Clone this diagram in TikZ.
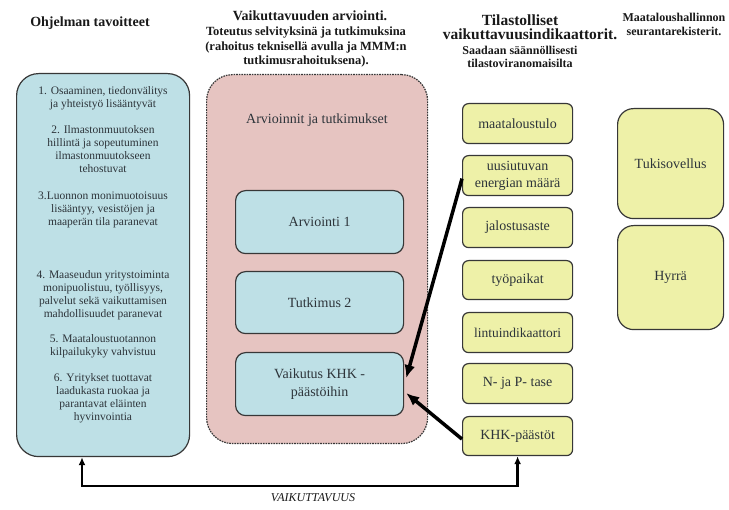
\documentclass[tikz,border=0pt]{standalone}
\usepackage{fontspec}
\setmainfont{Liberation Serif}
\usetikzlibrary{arrows.meta,calc}
\definecolor{bluefill}{RGB}{190,224,230}
\definecolor{pinkfill}{RGB}{230,196,193}
\definecolor{yelfill}{RGB}{238,241,168}
\definecolor{edgec}{RGB}{55,55,55}
\definecolor{txt}{RGB}{45,52,58}
\definecolor{head}{RGB}{25,25,25}
\tikzset{
  box/.style={draw=edgec, line width=1.2pt, inner sep=0pt, anchor=north west, text=txt, align=center},
  goalbox/.style={box, fill=bluefill, rounded corners=22pt},
  evalbox/.style={box, fill=pinkfill, dashed, dash pattern=on 1.6pt off 1pt, rounded corners=26pt},
  studybox/.style={box, fill=bluefill, rounded corners=10pt, font=\fontsize{14}{18}\selectfont},
  indbox/.style={box, fill=yelfill, rounded corners=6pt, minimum width=110pt, font=\fontsize{14}{17}\selectfont},
  regbox/.style={box, fill=yelfill, rounded corners=16pt, minimum width=106pt, font=\fontsize{14}{17}\selectfont},
  goaltext/.style={text=txt, align=center, font=\fontsize{11.5}{13}\selectfont, inner sep=0pt},
  headbig/.style={text=head, align=center, font=\bfseries\fontsize{14}{14}\selectfont, inner sep=0pt},
  headsmall/.style={text=head, align=center, font=\bfseries\fontsize{12}{14}\selectfont, inner sep=0pt},
  bigarrow/.style={line width=3.5pt, -{Latex[length=13pt,width=11pt]}},
  bottomconn/.style={line width=2.4pt, {Latex[length=8pt,width=7pt]}-{Latex[length=8pt,width=7pt]}},
}
\begin{document}
\begin{tikzpicture}[x=1pt,y=-1pt]
\useasboundingbox[fill=white] (0,0) rectangle (729,510);

% headings
\node[headbig] (h1) at (90,23) {Ohjelman tavoitteet};
\node[headbig] (h2a) at (310,16) {Vaikuttavuuden arviointi.};
\node[headsmall, font=\bfseries\fontsize{12.5}{14}\selectfont] (h2b) at (306,33) {Toteutus selvityksinä ja tutkimuksina};
\node[headsmall, font=\bfseries\fontsize{12.5}{14}\selectfont] (h2c) at (306,47) {(rahoitus teknisellä avulla ja MMM:n};
\node[headsmall, font=\bfseries\fontsize{12.5}{14}\selectfont] (h2d) at (306,61) {tutkimusrahoituksena).};
\node[headbig, font=\bfseries\fontsize{15.5}{15}\selectfont] (h3a) at (520,20) {Tilastolliset};
\node[headbig, font=\bfseries\fontsize{15.5}{15}\selectfont] (h3b) at (530,34) {vaikuttavuusindikaattorit.};
\node[headsmall] (h3c) at (520,50) {Saadaan säännöllisesti};
\node[headsmall] (h3d) at (520,63) {tilastoviranomaisilta};
\node[headsmall] (h4a) at (674,17) {Maataloushallinnon};
\node[headsmall] (h4b) at (674,31) {seurantarekisterit.};

% goals box
\node[goalbox, minimum width=173pt, minimum height=383pt] (goals) at (16,73) {};
\node[goaltext] (g1) at (103,98) {1. Osaaminen, tiedonvälitys\\ja yhteistyö lisääntyvät};
\node[goaltext] (g2) at (103,149.5) {2. Ilmastonmuutoksen\\hillintä ja sopeutuminen\\ilmastonmuutokseen\\tehostuvat};
\node[goaltext] (g3) at (103,210) {3.Luonnon monimuotoisuus\\lisääntyy, vesistöjen ja\\maaperän tila paranevat};
\node[goaltext] (g4) at (103,295) {4. Maaseudun yritystoiminta\\monipuolistuu, työllisyys,\\palvelut sekä vaikuttamisen\\mahdollisuudet paranevat};
\node[goaltext] (g5) at (103,346.5) {5. Maataloustuotannon\\kilpailukyky vahvistuu};
\node[goaltext] (g6) at (103,398) {6. Yritykset tuottavat\\laadukasta ruokaa ja\\parantavat eläinten\\hyvinvointia};

% evaluation box
\node[evalbox, minimum width=221pt, minimum height=369pt] (eval) at (206,74) {};
\node[text=txt, font=\fontsize{14}{16}\selectfont, inner sep=0pt] (evaltitle) at (317,120) {Arvioinnit ja tutkimukset};
\node[studybox, minimum width=168pt, minimum height=63pt] (arv1) at (235,190) {Arviointi 1};
\node[studybox, minimum width=168pt, minimum height=62pt] (tut2) at (235,271) {Tutkimus 2};
\node[studybox, minimum width=168pt, minimum height=63pt] (vai) at (235,352) {Vaikutus KHK -\\päästöihin};

% indicators
\node[indbox, minimum height=40pt] (maa) at (462,103) {maataloustulo};
\node[indbox, minimum height=40pt] (uus) at (462,155) {uusiutuvan\\energian määrä};
\node[indbox, minimum height=40pt] (jal) at (462,207) {jalostusaste};
\node[indbox, minimum height=39pt] (tyo) at (462,260) {työpaikat};
\node[indbox, minimum height=40pt, font=\fontsize{13.5}{16}\selectfont] (lin) at (462,312) {lintuindikaattori};
\node[indbox, minimum height=40pt] (np) at (462,363) {N- ja P- tase};
\node[indbox, minimum height=39pt] (khk) at (462,416) {KHK-päästöt};

% registers
\node[regbox, minimum height=110pt] (tuki) at (617,108) {Tukisovellus};
\node[regbox, minimum height=104pt] (hyrra) at (617,225) {Hyrrä};

% arrows
\draw[bigarrow] ($(uus.west)+(0,3)$) -- ($(vai.east)+(2,-6)$);
\draw[bigarrow] ($(khk.west)+(0,3)$) -- ($(vai.east)+(2,9)$);

\coordinate (bl) at (82,486);
\draw[bottomconn] (goals.south -| bl) -- (bl) -| (khk.south);
\node[text=head, font=\itshape\fontsize{12}{14}\selectfont, inner sep=0pt] (vaik) at (313,498) {VAIKUTTAVUUS};
\end{tikzpicture}
\end{document}
